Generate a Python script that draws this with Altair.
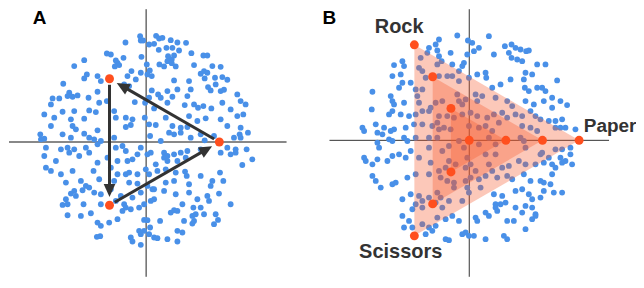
import math
import altair as alt
import pandas as pd

# ---------------- data (reference units: 1 unit = 1/3 px) ----------------
A_PTS = [
    (418,105),(420,118),(466,104),(475,112),(485,110),(510,117),(530,124),(556,125),(374,124),(445,130),(460,128),(427,118),
    (474,146),(497,140),(515,140),(535,148),(572,156),(608,163),(620,163),(318,157),(330,160),(422,167),(345,178),(368,170),(502,165),(520,163),(513,175),(500,180),
    (250,177),(220,195),(350,185),(355,192),(342,196),(438,190),(476,190),(490,196),(513,186),(525,196),(580,192),(635,195),(660,197),(392,210),(420,215),(447,208),(440,220),(610,210),(620,215),(600,218),
    (258,220),(250,232),(290,225),(300,240),(380,225),(405,235),(370,250),(385,255),(453,225),(520,238),(565,240),(612,232),(643,230),(665,228),(680,236),(187,248),(530,265),(570,265),(622,258),(645,250),(660,270),
    (205,275),(200,285),(215,287),(230,283),(263,290),(290,272),(453,268),(472,280),(480,290),(500,270),(515,287),(560,285),(630,268),(670,266),(710,280),(155,292),(175,292),(150,310),(130,340),
    (295,305),(318,300),(340,330),(402,303),(433,305),(445,290),(460,322),(500,305),(552,312),(580,310),(592,320),(608,315),(632,322),(665,305),(690,325),(720,300),(735,310),(710,345),(728,340),(220,330),(185,332),(160,350),(210,355),(250,353),(285,333),(265,328),
    (345,350),(375,350),(395,355),(432,350),(445,370),(465,372),(495,350),(515,375),(540,380),(560,378),(590,360),(615,352),(660,355),(680,375),(720,380),(150,375),(215,375),(225,385),(290,388),(375,378),(390,372),(565,345),
    (118,400),(120,415),(130,413),(185,400),(210,410),(250,398),(265,410),(280,415),(300,420),(340,410),(448,405),(480,420),(505,395),(520,400),(540,395),(570,410),(600,400),(612,418),(640,405),(700,410),(717,400),(742,395),(720,410),
    (135,440),(180,445),(200,440),(220,445),(255,440),(290,430),(345,440),(365,435),(375,450),(420,440),(440,460),(450,455),(490,455),(500,465),(520,460),(540,455),(560,450),(600,445),(680,440),(705,445),(738,445),(130,465),(165,480),(205,455),
    (235,465),(265,455),(290,485),(320,470),(350,480),(380,480),(395,475),(410,460),(465,490),(490,470),(500,480),(530,480),(555,470),(660,455),(690,460),(705,455),(725,492),(755,475),(135,500),(150,510),(180,520),(215,510),(278,510),
    (330,500),(350,520),(375,520),(385,515),(410,520),(435,505),(445,520),(470,510),(495,505),(525,515),(553,512),(558,525),(600,525),(635,540),(658,515),(668,540),(195,545),(240,540),(255,555),(265,560),(295,535),(340,540),
    (385,545),(410,548),(440,555),(455,565),(495,545),(520,540),(565,550),(630,555),(220,570),(245,568),(210,578),(225,585),(280,575),(300,580),(330,565),(360,585),(395,590),(420,575),(460,565),(490,570),(525,580),(565,575),(590,595),(620,585),(655,578),(690,610),
    (195,595),(185,612),(200,610),(248,610),(300,610),(345,600),(370,610),(390,625),(415,620),(430,610),(450,600),(460,595),(510,635),(530,630),(545,610),(578,620),(600,620),(625,600),
    (200,643),(240,645),(270,637),(325,665),(350,655),(365,630),(375,620),(430,657),(440,658),(478,660),(520,628),(550,660),(575,645),(585,640),(610,640),(645,640),(652,657),(640,670),
    (290,665),(300,675),(298,706),(288,708),(415,690),(420,700),(430,690),(448,680),(445,700),(390,710),(395,722),(420,732),(460,710),(470,712),(500,715),(530,690),(545,695),(530,722),(575,668),(580,660),
]

B_PTS = [
    (405,103),(437,118),(450,125),(500,105),(470,140),(455,150),(435,160),(425,185),(420,195),(410,210),(548,135),(568,130),(580,140),(595,145),(612,150),(620,148),(560,155),(568,170),(585,175),(600,180),(515,160),(350,115),(340,130),(320,140),(345,148),(350,165),(358,180),(385,155),(390,190),(315,155),(295,170),(240,180),(215,192),(245,195),
    (290,200),(300,210),(310,230),(345,190),(350,225),(375,225),(390,225),(410,240),(440,230),(465,220),(490,215),(492,230),(510,260),(535,250),(565,235),(610,215),(605,235),(608,260),(620,270),(645,260),(660,260),(670,270),(705,238),(630,220),(645,190),(670,190),(235,220),(210,225),(265,245),(240,245),(230,260),(280,265),(285,285),(300,265),
    (150,272),(205,285),(210,300),(215,310),(245,305),(290,305),(325,320),(340,305),(360,300),(405,280),(410,300),(420,310),(430,295),(460,280),(480,285),(465,300),(520,290),(555,300),(570,315),(610,300),(625,330),(635,310),(665,300),(690,290),(690,320),(715,300),(735,312),(148,325),(200,340),(210,330),(235,340),(260,345),(280,340),(300,330),(320,330),
    (350,345),(375,345),(395,350),(420,340),(445,335),(465,345),(495,350),(515,340),(540,335),(555,350),(580,340),(600,345),(640,345),(655,355),(680,360),(700,360),(720,355),(160,370),(185,380),(205,390),(215,385),(250,380),(275,370),(300,370),(330,375),(345,365),(350,385),(365,380),(385,385),(440,375),(470,380),(490,375),(510,390),(530,365),(600,375),(625,380),(645,390),(700,380),(715,380),(730,380),(760,385),
    (120,380),(125,390),(165,395),(180,400),(200,415),(165,425),(170,440),(210,420),(245,410),(255,420),(280,410),(320,410),(345,410),(320,440),(360,450),(380,435),(410,420),(425,440),(470,430),(500,410),(520,430),(520,460),(490,460),(595,410),(605,420),(610,440),(655,460),(660,455),(700,445),(720,445),(745,440),(745,460),(715,470),(750,490),(720,485),(690,490),
    (125,470),(130,480),(150,490),(165,475),(195,480),(210,465),(230,460),(250,470),(265,450),(290,470),(325,485),(350,510),(370,500),(380,480),(400,490),(430,500),(435,470),(445,490),(460,510),(500,490),(510,510),(540,500),(560,495),(590,480),(610,490),(640,490),(665,485),(680,470),(700,500),(690,520),(730,480),
    (150,525),(160,540),(175,560),(210,550),(220,545),(255,530),(280,520),(320,520),(355,530),(375,540),(395,545),(430,540),(445,530),(470,535),(490,525),(525,530),(555,525),(570,535),(605,520),(625,540),(655,540),(665,545),(685,550),(720,575),
    (240,595),(265,580),(290,585),(300,600),(320,590),(345,575),(355,590),(395,560),(435,560),(440,575),(475,560),(515,580),(540,585),(580,570),(600,565),(620,580),(630,595),(655,590),(665,570),(695,575),(270,625),(280,610),(300,620),(340,605),(360,620),(380,600),(420,600),(520,610),(535,610),(550,605),(580,620),(610,615),(630,620),(640,640),
    (240,645),(260,660),(245,680),(270,680),(300,670),(320,680),(345,650),(340,675),(370,655),(390,645),(410,660),(460,650),(465,660),(490,635),(500,645),(520,620),(525,630),(555,660),(575,660),(600,635),(610,685),(630,655),(640,645),(310,700),(330,690),(370,715),(380,718),(420,700),(430,695),(440,705),(455,705),(490,715),(545,705),(555,715),
]

# Panel A: strategies and cyclic arrows
A_NODES = ["Rock", "Paper", "Scissors"]
A_NODE_X = [326, 656, 326]
A_NODE_Y = [233, 423, 613]
A_CENTER = (436, 423)
ARROW_FROM = ["Paper", "Rock", "Scissors"]
ARROW_TO = ["Rock", "Scissors", "Paper"]

# Panel B: nested triangles
B_CENTER = (441, 418)
B_RED_X = [276, 331, 386, 441, 551, 661, 771, 386, 331, 276]
B_RED_Y = [131, 227, 322, 418, 418, 418, 418, 513, 609, 705]
TRI_LEVEL = ["outer", "middle", "inner"]
TRI_ROCK_X = [276, 331, 386]
TRI_ROCK_Y = [131, 227, 322]
TRI_SCIS_Y = [705, 609, 513]
TRI_PAPER_X = [771, 661, 551]

B_LABELS = ["Rock", "Paper", "Scissors"]
B_LABEL_X = [157, 785, 110]
B_LABEL_Y = [95, 393, 773]
B_LABEL_SIZE = [20, 19, 20]

BLUE = "#4990E8"
RED = "#FF4F1E"
TRI = "#F5572C"
DARK = "#333333"
FONT = "Liberation Sans"

# ---------------- panel A ----------------
ax = alt.Scale(domain=[24, 858], nice=False, zero=False)
ay = alt.Scale(domain=[24, 828], nice=False, zero=False, reverse=True)

def XA(f): return alt.X(f, type="quantitative", scale=ax, axis=None)
def YA(f): return alt.Y(f, type="quantitative", scale=ay, axis=None)

a_pts = pd.DataFrame(A_PTS, columns=["x", "y"])
a_nodes = pd.DataFrame({"name": A_NODES, "x": A_NODE_X, "y": A_NODE_Y})
a_h = pd.DataFrame({"x": [24], "x2": [858], "y": [A_CENTER[1]]})
a_v = pd.DataFrame({"x": [A_CENTER[0]], "y": [24], "y2": [828]})

pos = dict(zip(A_NODES, zip(A_NODE_X, A_NODE_Y)))
rows = []
for s, t in zip(ARROW_FROM, ARROW_TO):
    (sx, sy), (tx, ty) = pos[s], pos[t]
    dx, dy = tx - sx, ty - sy
    L = math.hypot(dx, dy)
    ux, uy = dx / L, dy / L
    tipx, tipy = tx - 25 * ux, ty - 25 * uy
    rows.append({
        "x": sx + 18 * ux, "y": sy + 18 * uy,
        "x2": tipx - 30 * ux, "y2": tipy - 30 * uy,
        "tx": tipx, "ty": tipy,
        "ang": (math.degrees(math.atan2(dx, -dy)) + 360) % 360,
    })
arrows = pd.DataFrame(rows)

a_layers = [
    alt.Chart(a_h).mark_rule(color="#888888", strokeWidth=2).encode(x=XA("x"), x2="x2", y=YA("y")),
    alt.Chart(a_v).mark_rule(color="#222222", strokeWidth=1).encode(x=XA("x"), y=YA("y"), y2="y2"),
    alt.Chart(a_pts).mark_circle(color=BLUE, size=34, opacity=1).encode(x=XA("x"), y=YA("y")),
    alt.Chart(arrows).mark_rule(color=DARK, strokeWidth=3).encode(x=XA("x"), y=YA("y"), x2="x2", y2="y2"),
    alt.Chart(arrows).mark_point(shape="M0,0 L-0.45,1 L0.45,1 Z", filled=True, size=676,
                                 color=DARK, opacity=1, strokeWidth=0).encode(
        x=XA("tx"), y=YA("ty"), angle=alt.Angle("ang:Q", scale=None)),
    alt.Chart(a_nodes).mark_circle(color=RED, size=80, opacity=1).encode(x=XA("x"), y=YA("y")),
    alt.Chart(pd.DataFrame({"t": ["A"], "x": [95], "y": [68]})).mark_text(
        align="left", baseline="alphabetic", font=FONT, fontWeight="bold", fontSize=19,
        color="#000000", clip=True
    ).encode(x=XA("x"), y=YA("y"), text="t:N"),
]
panel_a = alt.layer(*a_layers).properties(width=278, height=268)

# ---------------- panel B ----------------
bx = alt.Scale(domain=[-3, 942], nice=False, zero=False)
by = alt.Scale(domain=[24, 828], nice=False, zero=False, reverse=True)

def XB(f): return alt.X(f, type="quantitative", scale=bx, axis=None)
def YB(f): return alt.Y(f, type="quantitative", scale=by, axis=None)

b_pts = pd.DataFrame(B_PTS, columns=["x", "y"])
b_red = pd.DataFrame({"x": B_RED_X, "y": B_RED_Y})
b_h = pd.DataFrame({"x": [21], "x2": [861], "y": [B_CENTER[1]]})
b_v = pd.DataFrame({"x": [B_CENTER[0]], "y": [24], "y2": [828]})

tri_rows = []
for lvl, rx, ry, sy, px in zip(TRI_LEVEL, TRI_ROCK_X, TRI_ROCK_Y, TRI_SCIS_Y, TRI_PAPER_X):
    tri_rows.append({"level": lvl, "x": rx, "y": ry, "y2": sy})
    tri_rows.append({"level": lvl, "x": px, "y": B_CENTER[1], "y2": B_CENTER[1]})
tri = pd.DataFrame(tri_rows)

b_lab = pd.DataFrame({"t": B_LABELS, "x": B_LABEL_X, "y": B_LABEL_Y, "s": B_LABEL_SIZE})

b_layers = [
    alt.Chart(b_h).mark_rule(color=DARK, strokeWidth=1).encode(x=XB("x"), x2="x2", y=YB("y")),
    alt.Chart(b_v).mark_rule(color=DARK, strokeWidth=1).encode(x=XB("x"), y=YB("y"), y2="y2"),
    alt.Chart(b_pts).mark_circle(color=BLUE, size=34, opacity=1).encode(x=XB("x"), y=YB("y")),
    alt.Chart(tri).mark_area(color=TRI, opacity=0.33, interpolate="linear").encode(
        x=XB("x"), y=alt.Y("y", type="quantitative", scale=by, axis=None, stack=None), y2="y2",
        detail="level:N"),
    alt.Chart(b_red).mark_circle(color=RED, size=80, opacity=1).encode(x=XB("x"), y=YB("y")),
    alt.Chart(b_lab).mark_text(align="left", baseline="alphabetic", font=FONT, fontWeight="bold",
                               color=DARK, clip=True).encode(
        x=XB("x"), y=YB("y"), text="t:N", size=alt.Size("s:Q", scale=None)),
    alt.Chart(pd.DataFrame({"t": ["B"], "x": [0], "y": [68]})).mark_text(
        align="left", baseline="alphabetic", font=FONT, fontWeight="bold", fontSize=19,
        color="#000000", clip=True
    ).encode(x=XB("x"), y=YB("y"), text="t:N"),
]
panel_b = alt.layer(*b_layers).properties(width=315, height=268)

chart = alt.hconcat(panel_a, panel_b, spacing=35, bounds="flush").properties(
    padding=0, background="white"
).configure_view(stroke=None)

chart.save("out.html", embed_options={"renderer": "svg", "actions": False})
